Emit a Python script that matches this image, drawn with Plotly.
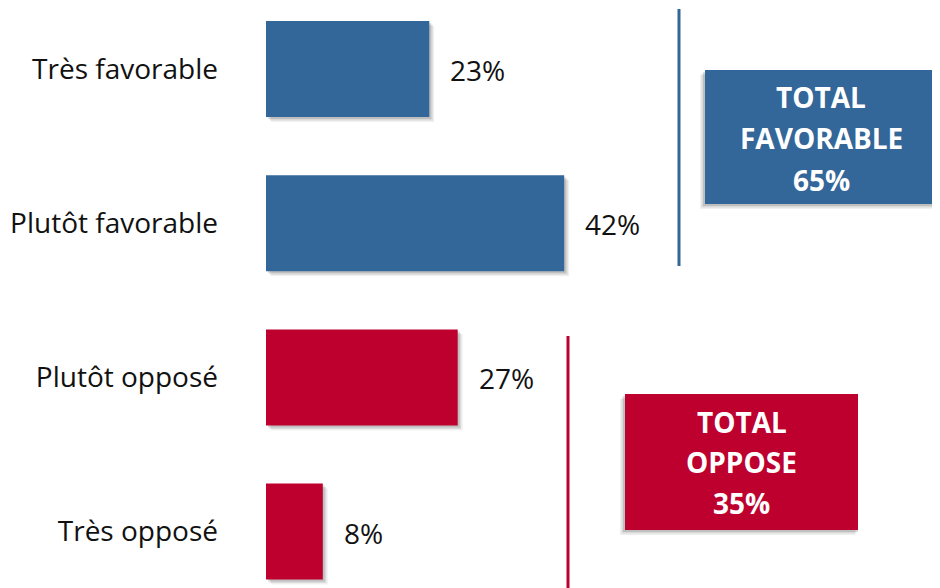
import plotly.graph_objects as go

categories = ["Très favorable", "Plutôt favorable", "Plutôt opposé", "Très opposé"]
values = [23, 42, 27, 8]
groups = ["fav", "fav", "opp", "opp"]
total_labels = {"fav": ["TOTAL", "FAVORABLE", "65%"], "opp": ["TOTAL", "OPPOSE", "35%"]}

BLUE = "#336699"
RED = "#BE002F"
colors = [BLUE if g == "fav" else RED for g in groups]

# layout helpers: screen pixel -> data coordinates (page body has 8px margin)
OFF = 8
PX0, PXU = 266.0, 7.1      # screen x px of 0%, px per %
PY0, PYU = 69.0, 154.2     # screen y px of first category, px per category
W, H = 932, 580
ML = 216                   # figure px

def xd(px):
    return (px - PX0) / PXU

def yd(py):
    return (py - PY0) / PYU

ypos = list(range(len(categories)))
BW = 96 / PYU

fig = go.Figure()
fig.add_trace(go.Bar(
    x=values, y=ypos, orientation="h", width=BW,
    marker=dict(color=colors, line=dict(width=0)),
    hoverinfo="skip",
))

shapes = []
for yi, v in zip(ypos, values):
    for off, a in [(5, 0.06), (3.5, 0.09), (2, 0.12)]:
        shapes.append(dict(type="rect", xref="x", yref="y", layer="below",
                           x0=xd(PX0 + off), x1=v + off / PXU,
                           y0=yi - BW / 2 + off / PYU, y1=yi + BW / 2 + off / PYU,
                           fillcolor=f"rgba(0,0,0,{a})", line=dict(width=0)))

annotations = []
for yi, v in zip(ypos, values):
    annotations.append(dict(x=v, y=yi, xref="x", yref="y", text=f"{v}%",
                            showarrow=False, xanchor="left", yanchor="middle",
                            xshift=19, yshift=-1,
                            font=dict(family="Open Sans", size=28, color="#111111")))

shapes.append(dict(type="line", xref="x", yref="y", x0=xd(679), x1=xd(679),
                   y0=yd(9), y1=yd(266), line=dict(color=BLUE, width=3)))
shapes.append(dict(type="line", xref="x", yref="y", x0=xd(568), x1=xd(568),
                   y0=yd(336), y1=yd(600), line=dict(color=RED, width=3)))

boxes = {"fav": (705, 937, 70, 204, BLUE, [97, 138, 180]),
         "opp": (625, 858, 394, 530, RED, [422, 462, 503])}
for g, (bx0, bx1, by0, by1, col, ly) in boxes.items():
    for off, a in [(5, 0.06), (3.5, 0.09), (2, 0.12)]:
        shapes.append(dict(type="rect", xref="x", yref="y",
                           x0=xd(bx0 - off), x1=xd(bx1 - off + 2),
                           y0=yd(by0 + off), y1=yd(by1 + off),
                           fillcolor=f"rgba(0,0,0,{a})", line=dict(width=0)))
    shapes.append(dict(type="rect", xref="x", yref="y",
                       x0=xd(bx0), x1=xd(bx1), y0=yd(by0), y1=yd(by1),
                       fillcolor=col, line=dict(width=0)))
    cx = xd((bx0 + bx1) / 2)
    for txt, py in zip(total_labels[g], ly):
        annotations.append(dict(x=cx, y=yd(py), xref="x", yref="y", text=f"<b>{txt}</b>",
                                showarrow=False, xanchor="center", yanchor="middle",
                                font=dict(family="Open Sans", size=28, color="white")))

fig.update_layout(
    width=W, height=H,
    margin=dict(l=ML, r=0, t=0, b=0),
    plot_bgcolor="white", paper_bgcolor="white",
    showlegend=False,
    xaxis=dict(range=[xd(ML + OFF), xd(W + OFF)], visible=False, fixedrange=True),
    yaxis=dict(range=[yd(H + OFF), yd(OFF)], tickvals=ypos, ticktext=categories,
               showgrid=False, zeroline=False, showline=False, ticks="",
               ticklabelstandoff=5, fixedrange=True,
               tickfont=dict(family="Open Sans", size=28, color="#111111")),
    shapes=shapes, annotations=annotations,
)

fig.write_html("out.html")
